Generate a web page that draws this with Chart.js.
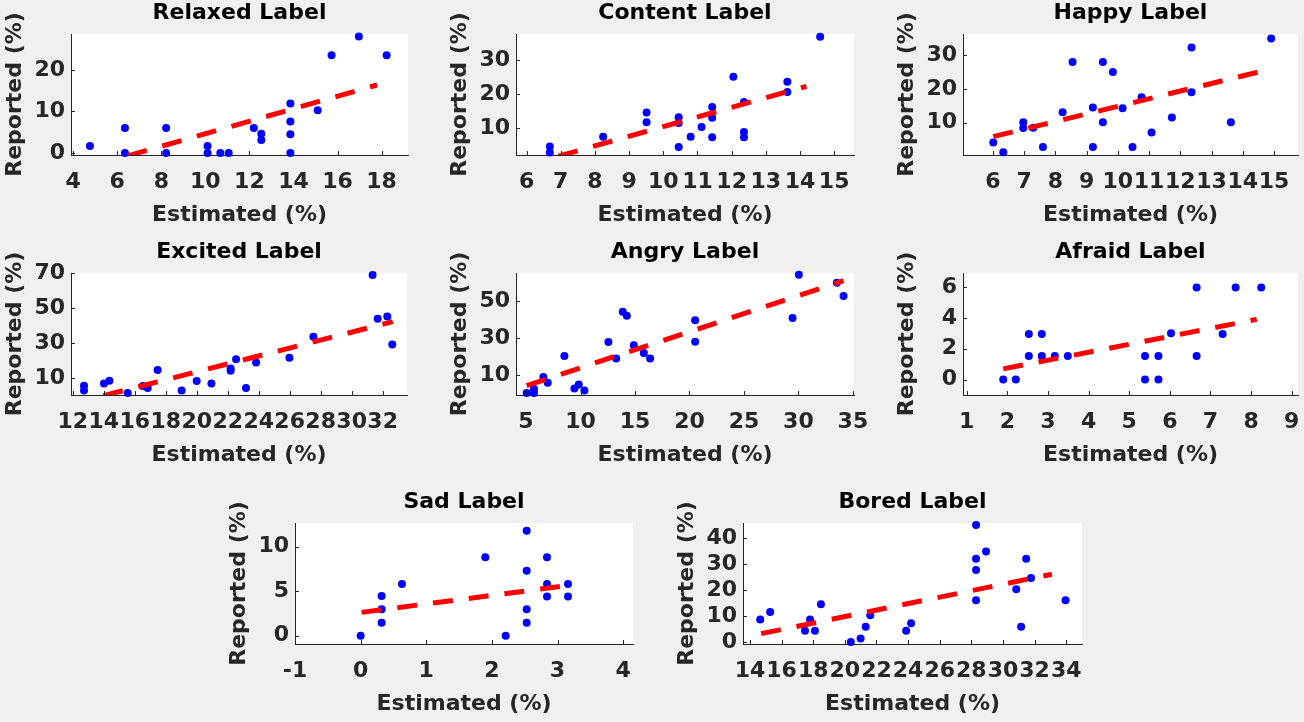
<!DOCTYPE html>
<html><head><meta charset="utf-8">
<script src="https://cdn.jsdelivr.net/npm/chart.js@4.4.1/dist/chart.umd.min.js"></script>
<style>
html,body{margin:0;padding:0;background:#f0f0f0;width:1304px;height:722px;overflow:hidden;position:relative;}
canvas{position:absolute;}
</style></head><body>
<script>
// ---------- data ----------
const relaxedEstimated = [4.76, 6.35, 6.35, 8.22, 8.22, 10.1, 10.1, 10.68, 11.06, 12.2, 12.54, 12.54, 13.86, 13.86, 13.86, 13.86, 15.1, 15.73, 16.97, 18.23];
const relaxedReported  = [1.7, 6.0, 0, 6.0, 0, 1.7, 0, 0, 0, 6.0, 4.6, 3.1, 11.9, 7.6, 4.5, 0, 10.3, 23.6, 28.1, 23.6];
const relaxedFitEstimated = [6.47, 17.8];
const relaxedFitReported  = [-0.7, 16.4];
const relaxedXTicks = [4, 6, 8, 10, 12, 14, 16, 18];
const relaxedYTicks = [0, 10, 20];

const contentEstimated = [6.68, 6.68, 8.24, 9.51, 9.51, 10.45, 10.45, 10.45, 10.8, 11.12, 11.43, 11.43, 11.43, 12.05, 12.36, 12.36, 12.36, 13.63, 13.63, 14.59];
const contentReported  = [4.6, 2.8, 7.4, 14.6, 11.7, 13.2, 11.5, 4.4, 7.4, 10.3, 16.2, 13.0, 7.3, 25.1, 17.7, 8.8, 7.3, 23.6, 20.6, 36.9];
const contentFitEstimated = [6.93, 14.19];
const contentFitReported  = [1.7, 22.3];
const contentXTicks = [6, 7, 8, 9, 10, 11, 12, 13, 14, 15];
const contentYTicks = [10, 20, 30];

const happyEstimated = [6.01, 6.33, 6.97, 6.97, 7.29, 7.6, 8.23, 8.55, 9.2, 9.2, 9.52, 9.52, 9.84, 10.15, 10.47, 10.76, 11.08, 11.73, 12.36, 12.36, 13.62, 14.91];
const happyReported  = [4.1, 1.2, 10.1, 8.4, 8.5, 2.8, 13.1, 28.0, 14.5, 2.8, 28.0, 10.1, 25.0, 14.3, 2.8, 17.5, 7.1, 11.5, 32.3, 19.0, 10.1, 35.0];
const happyFitEstimated = [6.01, 14.76];
const happyFitReported  = [5.84, 25.6];
const happyXTicks = [6, 7, 8, 9, 10, 11, 12, 13, 14, 15];
const happyYTicks = [10, 20, 30];

const excitedEstimated = [12.73, 12.73, 14.02, 14.37, 15.55, 16.52, 16.84, 17.48, 19.03, 20.0, 20.95, 22.19, 22.19, 22.54, 23.18, 23.83, 25.98, 27.53, 31.35, 31.68, 32.3, 32.62];
const excitedReported  = [5.8, 3.0, 7.1, 8.7, 1.6, 5.6, 4.5, 14.8, 3.0, 8.5, 7.1, 15.7, 14.4, 20.9, 4.5, 19.0, 21.8, 33.8, 69.0, 44.1, 45.4, 29.4];
const excitedFitEstimated = [13.98, 32.65];
const excitedFitReported  = [0.1, 42.4];
const excitedXTicks = [12, 14, 16, 18, 20, 22, 24, 26, 28, 30, 32];
const excitedYTicks = [10, 30, 50, 70];

const angryEstimated = [5.06, 5.73, 5.73, 6.59, 6.99, 8.52, 9.44, 9.84, 10.36, 12.56, 13.27, 13.88, 14.25, 14.89, 15.81, 16.39, 20.52, 20.52, 29.46, 30.04, 33.53, 34.14];
const angryReported  = [0.2, 0.2, 2.4, 8.9, 5.8, 20.3, 2.6, 4.8, 1.5, 27.9, 18.9, 44.4, 42.2, 26.1, 21.9, 19.0, 39.7, 28.1, 41.0, 64.5, 60.1, 52.9];
const angryFitEstimated = [5.06, 34.14];
const angryFitReported  = [4.2, 61.2];
const angryXTicks = [5, 10, 15, 20, 25, 30, 35];
const angryYTicks = [10, 30, 50];

const afraidEstimated = [1.9, 2.21, 2.53, 2.53, 2.85, 2.85, 3.17, 3.49, 5.39, 5.39, 5.72, 5.72, 6.03, 6.66, 6.66, 7.3, 7.62, 8.25];
const afraidReported  = [0, 0, 2.95, 1.52, 2.95, 1.52, 1.52, 1.52, 1.52, 0, 1.52, 0, 3.0, 5.96, 1.52, 2.95, 5.96, 5.96];
const afraidFitEstimated = [1.9, 8.14];
const afraidFitReported  = [0.69, 3.9];
const afraidXTicks = [1, 2, 3, 4, 5, 6, 7, 8, 9];
const afraidYTicks = [0, 2, 4, 6];

const sadEstimated = [0.0, 0.32, 0.32, 0.32, 0.63, 1.9, 2.21, 2.53, 2.53, 2.53, 2.53, 2.84, 2.84, 2.84, 3.16, 3.16];
const sadReported  = [0, 4.46, 2.96, 1.46, 5.8, 8.8, 0, 11.8, 7.3, 2.96, 1.46, 8.8, 5.8, 4.4, 5.8, 4.4];
const sadFitEstimated = [0.015, 3.09];
const sadFitReported  = [2.62, 5.58];
const sadXTicks = [-1, 0, 1, 2, 3, 4];
const sadYTicks = [0, 5, 10];

const boredEstimated = [14.65, 15.28, 17.48, 17.8, 18.11, 18.49, 20.38, 21.0, 21.32, 21.61, 23.88, 24.19, 28.3, 28.3, 28.3, 28.3, 28.93, 30.84, 31.15, 31.47, 31.78, 33.96];
const boredReported  = [8.8, 11.7, 4.4, 8.8, 4.4, 14.6, 0.1, 1.5, 6.0, 10.4, 4.4, 7.3, 45.1, 32.1, 27.8, 16.2, 34.9, 20.4, 6.0, 32.1, 24.7, 16.2];
const boredFitEstimated = [14.71, 33.1];
const boredFitReported  = [3.33, 26.2];
const boredXTicks = [14, 16, 18, 20, 22, 24, 26, 28, 30, 32, 34];
const boredYTicks = [0, 10, 20, 30, 40];

// ---------- panels (layout kept apart from data) ----------
const panels = [
  {title:'Relaxed Label', est:relaxedEstimated, rep:relaxedReported, fx:relaxedFitEstimated, fy:relaxedFitReported, xt:relaxedXTicks, yt:relaxedYTicks, xr:[3.9,19.2], yr:[-0.5,28.7], box:{l:71,t:34,r:408,b:155}},
  {title:'Content Label', est:contentEstimated, rep:contentReported, fx:contentFitEstimated, fy:contentFitReported, xt:contentXTicks, yt:contentYTicks, xr:[5.69,15.58], yr:[2.06,37.7], box:{l:516,t:34,r:854,b:155}},
  {title:'Happy Label', est:happyEstimated, rep:happyReported, fx:happyFitEstimated, fy:happyFitReported, xt:happyXTicks, yt:happyYTicks, xr:[5.04,15.77], yr:[0.4,36.3], box:{l:963,t:34,r:1298,b:155}},
  {title:'Excited Label', est:excitedEstimated, rep:excitedReported, fx:excitedFitEstimated, fy:excitedFitReported, xt:excitedXTicks, yt:excitedYTicks, xr:[11.89,33.57], yr:[0.5,70.2], box:{l:71,t:273,r:407,b:395}},
  {title:'Angry Label', est:angryEstimated, rep:angryReported, fx:angryFitEstimated, fy:angryFitReported, xt:angryXTicks, yt:angryYTicks, xr:[4.08,35.1], yr:[-0.9,65.4], box:{l:516,t:273,r:854,b:395}},
  {title:'Afraid Label', est:afraidEstimated, rep:afraidReported, fx:afraidFitEstimated, fy:afraidFitReported, xt:afraidXTicks, yt:afraidYTicks, xr:[0.91,9.155], yr:[-1,6.9], box:{l:963,t:273,r:1298,b:395}},
  {title:'Sad Label', est:sadEstimated, rep:sadReported, fx:sadFitEstimated, fy:sadFitReported, xt:sadXTicks, yt:sadYTicks, xr:[-1,4.15], yr:[-0.93,12.66], box:{l:295,t:523,r:633,b:644}},
  {title:'Bored Label', est:boredEstimated, rep:boredReported, fx:boredFitEstimated, fy:boredFitReported, xt:boredXTicks, yt:boredYTicks, xr:[13.56,35.0], yr:[-0.65,45.9], box:{l:743,t:523,r:1082,b:644}}
];

const FONT = '"DejaVu Sans", Arial, sans-serif';
const Y_AXIS_W = 71, TOP_H = 34, BOTTOM_H = 85;
const AXIS_COLOR = '#262626';

const whiteArea = {
  id: 'whiteArea',
  beforeDraw(chart) {
    const {ctx, chartArea: a} = chart;
    ctx.save();
    ctx.fillStyle = '#ffffff';
    ctx.fillRect(a.left, a.top, a.right - a.left, a.bottom - a.top);
    ctx.restore();
  }
};
const inwardTicks = {
  id: 'inwardTicks',
  afterDraw(chart) {
    const {ctx, chartArea: a, scales: {x, y}} = chart;
    ctx.save();
    ctx.strokeStyle = AXIS_COLOR;
    ctx.lineWidth = 1;
    ctx.beginPath();
    x.ticks.forEach(t => {
      const px = Math.round(x.getPixelForValue(t.value)) + 0.5;
      ctx.moveTo(px, a.bottom); ctx.lineTo(px, a.bottom - 4);
    });
    y.ticks.forEach(t => {
      const py = Math.round(y.getPixelForValue(t.value)) + 0.5;
      ctx.moveTo(a.left, py); ctx.lineTo(a.left + 4, py);
    });
    ctx.stroke();
    ctx.restore();
  }
};

panels.forEach(p => {
  const c = document.createElement('canvas');
  const rightPad = Math.min(24, 1304 - p.box.r);
  const w = p.box.r - p.box.l + Y_AXIS_W + rightPad;
  const h = p.box.b - p.box.t + TOP_H + BOTTOM_H;
  c.width = w; c.height = h;
  c.style.width = w + 'px'; c.style.height = h + 'px';
  c.style.left = (p.box.l - Y_AXIS_W) + 'px';
  c.style.top = (p.box.t - TOP_H) + 'px';
  document.body.appendChild(c);

  new Chart(c, {
    type: 'scatter',
    data: {
      datasets: [
        {
          data: p.fx.map((x, i) => ({x, y: p.fy[i]})),
          showLine: true,
          borderColor: '#ff0000',
          borderWidth: 5,
          borderDash: [20, 16],
          borderCapStyle: 'butt',
          pointRadius: 0,
          pointHoverRadius: 0,
          fill: false,
          order: 0
        },
        {
          data: p.est.map((x, i) => ({x, y: p.rep[i]})),
          backgroundColor: '#0000ff',
          borderColor: '#0000ff',
          borderWidth: 0,
          pointRadius: 4,
          pointHoverRadius: 4,
          clip: false,
          order: 1
        }
      ]
    },
    options: {
      responsive: false,
      animation: false,
      devicePixelRatio: 1,
      events: [],
      layout: {padding: {left: 0, top: 0, right: rightPad, bottom: 0}},
      plugins: {
        legend: {display: false},
        tooltip: {enabled: false},
        title: {
          display: true, text: p.title, fullSize: false, color: '#000000',
          font: {family: FONT, size: 22, weight: 'bold', lineHeight: 1},
          padding: {top: 2, bottom: 10}
        }
      },
      scales: {
        x: {
          type: 'linear', position: 'bottom', bounds: 'data',
          min: p.xr[0], max: p.xr[1],
          afterBuildTicks: s => { s.ticks = p.xt.map(v => ({value: v})); },
          afterFit: s => { s.height = BOTTOM_H; s.paddingLeft = 0; s.paddingRight = 0; },
          grid: {display: false, drawTicks: false},
          border: {display: true, color: AXIS_COLOR, width: 1},
          ticks: {
            autoSkip: false, maxRotation: 0, minRotation: 0, padding: 16,
            color: AXIS_COLOR, font: {family: FONT, size: 22, weight: 'bold', lineHeight: 1},
            callback: v => String(v)
          },
          title: {
            display: true, text: 'Estimated (%)', color: AXIS_COLOR,
            font: {family: FONT, size: 22, weight: 'bold', lineHeight: 1},
            padding: {top: 0, bottom: 14}
          }
        },
        y: {
          type: 'linear', position: 'left', bounds: 'data',
          min: p.yr[0], max: p.yr[1],
          afterBuildTicks: s => { s.ticks = p.yt.map(v => ({value: v})); },
          afterFit: s => { s.width = Y_AXIS_W; s.paddingTop = 0; s.paddingBottom = 0; },
          grid: {display: false, drawTicks: false},
          border: {display: true, color: AXIS_COLOR, width: 1},
          ticks: {
            autoSkip: false, padding: 6,
            color: AXIS_COLOR, font: {family: FONT, size: 22, weight: 'bold', lineHeight: 1},
            callback: v => String(v)
          },
          title: {
            display: true, text: 'Reported (%)', color: AXIS_COLOR,
            font: {family: FONT, size: 22, weight: 'bold', lineHeight: 1},
            padding: {top: 4, bottom: 0}
          }
        }
      }
    },
    plugins: [whiteArea, inwardTicks]
  });
});
</script>
</body></html>
